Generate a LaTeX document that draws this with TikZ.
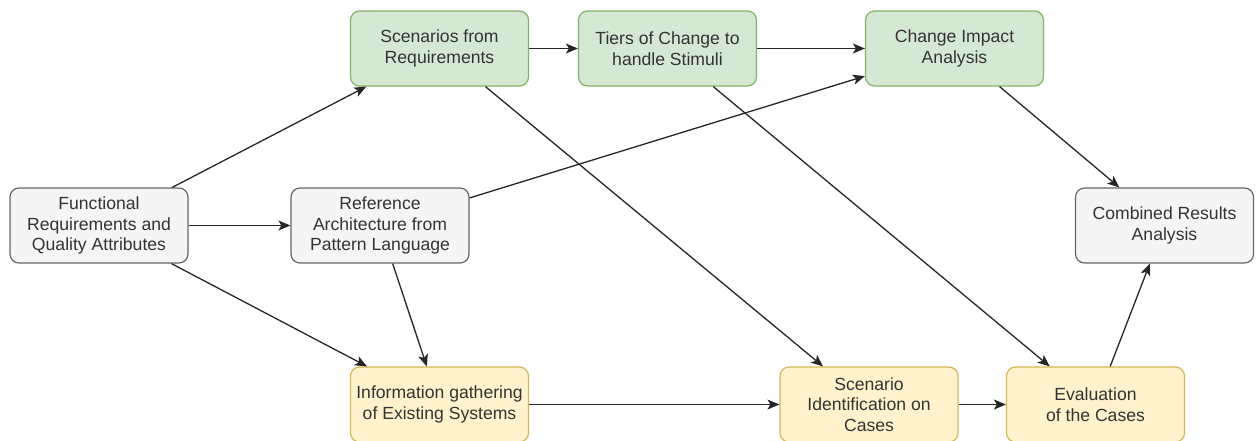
\documentclass[tikz,border=0pt]{standalone}
\usepackage{fontspec}
\setmainfont{Liberation Sans}
\usetikzlibrary{arrows.meta}
\tikzset{>={Stealth[length=12pt,width=10pt,inset=3pt]}}
\definecolor{greyfill}{HTML}{F5F5F5}
\definecolor{greyline}{HTML}{666666}
\definecolor{greenfill}{HTML}{D5E8D4}
\definecolor{greenline}{HTML}{82B366}
\definecolor{yellowfill}{HTML}{FFF2CC}
\definecolor{yellowline}{HTML}{D6B656}
\definecolor{txt}{HTML}{333333}
\tikzset{
  box/.style={rectangle, rounded corners=9pt, line width=1.2pt,
    minimum width=178pt, minimum height=75pt, align=center,
    text=txt, font=\fontsize{17.6}{20.5}\selectfont, inner sep=2pt},
  grey/.style={box, draw=greyline, fill=greyfill},
  green/.style={box, draw=greenline, fill=greenfill},
  yellow/.style={box, draw=yellowline, fill=yellowfill},
  link/.style={->, line width=1.3pt, black!85}
}

\begin{document}
\begin{tikzpicture}[x=1pt,y=-1pt]
  \clip (0,0) rectangle (1260,440);
  % boxes
  \node[grey] (fr) at (99,225.5) {Functional\\Requirements and\\Quality Attributes};
  \node[grey] (ra) at (380,225.5) {Reference\\Architecture from\\Pattern Language};
  \node[grey] (cra) at (1164.5,225.5) {Combined Results\\Analysis};
  \node[green] (scen) at (439.5,48.5) {Scenarios from\\Requirements};
  \node[green] (tiers) at (667.5,48.5) {Tiers of Change to\\handle Stimuli};
  \node[green] (cia) at (954.5,48.5) {Change Impact\\Analysis};
  \node[yellow] (info) at (439.5,404.5) {Information gathering\\of Existing Systems};
  \node[yellow] (sic) at (869,404.5) {Scenario\\Identification on\\Cases};
  \node[yellow] (eval) at (1095.5,404.5) {Evaluation\\of the Cases};
  % connectors
  \draw[link] (fr) -- (ra);
  \draw[link] (fr) -- (scen);
  \draw[link] (fr) -- (info);
  \draw[link] (ra) -- (cia);
  \draw[link] (ra) -- (info);
  \draw[link] (scen) -- (tiers);
  \draw[link] (tiers) -- (cia);
  \draw[link] (scen) -- (sic);
  \draw[link] (tiers) -- (eval);
  \draw[link] (cia) -- (cra);
  \draw[link] (info) -- (sic);
  \draw[link] (sic) -- (eval);
  \draw[link] (eval) -- (cra);
\end{tikzpicture}
\end{document}
